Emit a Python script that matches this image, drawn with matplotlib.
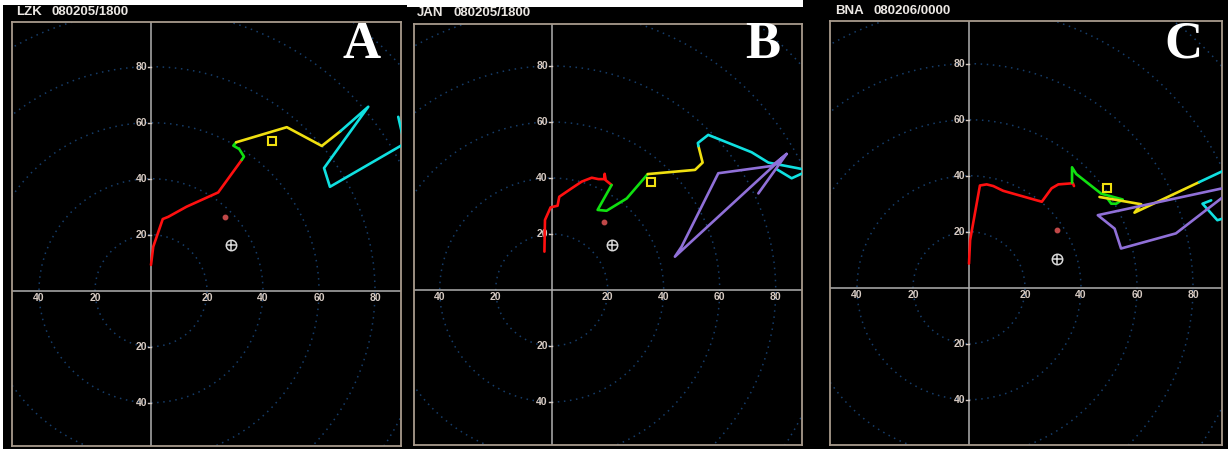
"""
Three model hodographs side by side (LZK, JAN, BNA) drawn as dark radar-style
panels: dotted range rings every 20 kt, cross-hair axes and the wind trace
coloured by layer.
"""
import matplotlib
matplotlib.use("Agg")
import matplotlib.pyplot as plt
from matplotlib.patches import Circle

W, H = 1231, 451

# --- hodograph traces (u, v) in kt -------------------------------------------
LZK_RED = [(0, 9.2), (0.8, 15.7), (4.2, 25.6), (6.2, 26.4), (12.7, 30), (24, 35.1), (32.4, 46.7)]
LZK_GREEN = [(32.4, 46.7), (33.2, 47.9), (31.5, 50.6), (29.4, 51.8), (30.4, 53)]
LZK_YELLOW = [(30.4, 53), (48.5, 58.4), (61.0, 51.7), (67.7, 57.0)]
LZK_CYAN = [(67.7, 57.0), (77.6, 65.7), (61.8, 43.8), (63.9, 37.1), (90.5, 52.5), (88.3, 62.1)]
LZK_PURPLE = []
LZK_DOT = (26.4, 26.4)
LZK_MEAN = (28.6, 16.3)
LZK_SQUARE = (43.2, 53.3)

JAN_RED = [(-2.6, 13.7), (-2.4, 25), (-0.4, 29.5), (2.1, 30.1), (2.7, 33.3), (7.1, 36.3),
           (10.7, 38.7), (14.3, 40.1), (16.7, 39.6), (18.8, 39.6), (18.9, 41.5), (19.3, 39.2),
           (21.4, 37.5)]
JAN_GREEN = [(21.4, 37.5), (16.4, 28.6), (19.6, 28.3), (26.8, 32.7), (34.3, 41.4)]
JAN_YELLOW = [(34.3, 41.4), (51.2, 42.9), (53.9, 45.5), (52.4, 51.4)]
JAN_CYAN = [(52.4, 51.4), (52.2, 52.5), (55.9, 55.4), (71.4, 49.2), (77.4, 45.5), (91, 42.9),
            (89.6, 41.7), (85.7, 39.9), (80.4, 43.1)]
JAN_PURPLE = [(73.8, 34.5), (83.9, 48.6), (44, 11.9), (46.4, 15.5), (59.5, 41.7), (78.6, 44.3),
              (83.9, 48.6)]
JAN_DOT = (18.8, 24.2)
JAN_MEAN = (21.7, 16.1)
JAN_SQUARE = (35.5, 38.5)

BNA_RED = [(0, 8.6), (0.4, 17), (3.9, 36.5), (6.3, 36.9), (8.7, 36.3), (12.2, 34.6), (26, 30.7),
           (29.5, 35.5), (31.9, 36.9), (37.1, 37.3), (37.5, 36.3)]
BNA_GREEN = [(36.8, 37.5), (36.8, 43), (38.3, 40.6), (47.2, 33.6), (54.9, 31.5), (52.6, 30),
             (50.8, 30), (49.5, 31.8)]
BNA_YELLOW = [(46.6, 32.4), (61.5, 29.8), (59.1, 26.8), (82.2, 37.7)]
BNA_CYAN = [(82.2, 37.7), (90.5, 41.6), (92, 42.3)]
BNA_CYAN_LOW = [(86.5, 31.2), (83.4, 30), (88.7, 24.1), (91, 24.8)]
BNA_PURPLE = [(91, 35.6), (46, 25.9), (52, 21.1), (54.3, 14), (73.9, 19.4), (91, 32.6)]
BNA_DOT = (31.5, 20.7)
BNA_MEAN = (31.5, 10.4)
BNA_SQUARE = (49.2, 35.6)

STATIONS = ["LZK", "JAN", "BNA"]
TIMES = ["080205/1800", "080205/1800", "080206/0000"]
LETTERS = ["A", "B", "C"]
RINGS = [20, 40, 60, 80, 100, 120]
X_TICKS = [-40, -20, 20, 40, 60, 80]
Y_TICKS = [-40, -20, 20, 40, 60, 80]

COLORS = {"red": "#ff1010", "green": "#10e010", "yellow": "#f0e010",
          "cyan": "#10e0e0", "purple": "#9070d8"}

panels = [
    {"traces": [("red", LZK_RED), ("green", LZK_GREEN), ("yellow", LZK_YELLOW),
                ("cyan", LZK_CYAN), ("purple", LZK_PURPLE)],
     "dot": LZK_DOT, "mean": LZK_MEAN, "square": LZK_SQUARE},
    {"traces": [("red", JAN_RED), ("green", JAN_GREEN), ("yellow", JAN_YELLOW),
                ("cyan", JAN_CYAN), ("purple", JAN_PURPLE)],
     "dot": JAN_DOT, "mean": JAN_MEAN, "square": JAN_SQUARE},
    {"traces": [("red", BNA_RED), ("green", BNA_GREEN), ("yellow", BNA_YELLOW),
                ("cyan", BNA_CYAN), ("cyan", BNA_CYAN_LOW), ("purple", BNA_PURPLE)],
     "dot": BNA_DOT, "mean": BNA_MEAN, "square": BNA_SQUARE},
]

# screen layout in pixels: black backdrop, plot frame, origin, title positions
backdrops = [(3, 5, 407, 449), (407, 7, 803, 449), (803, 0, 1228, 449)]
frames = [(12, 22, 401, 446), (414, 24, 802, 445), (830, 21, 1222, 445)]
origins = [(151, 290.7), (551.7, 290), (969, 287.7)]
title_pos = [(16, 52, 12), (417, 454, 13.5), (835, 873, 11)]
letter_pos = [(362, 45), (763, 45), (1183, 45)]
PX_PER_KT = 2.8

TXT = "#d6cac2"
RING = "#163d6a"
FRAME = "#a89a8c"
AXIS = "#b0b0b0"


def rect(x0, y0, x1, y1):
    return [x0 / W, 1 - y1 / H, (x1 - x0) / W, (y1 - y0) / H]


fig = plt.figure(figsize=(W / 100, H / 100), dpi=100, facecolor="white")

for i, p in enumerate(panels):
    bg = fig.add_axes(rect(*backdrops[i]))
    bg.set_facecolor("black")
    bg.set_xticks([]); bg.set_yticks([])
    for s in bg.spines.values():
        s.set_visible(False)

    x0, y0, x1, y1 = frames[i]
    ox, oy = origins[i]
    ax = fig.add_axes(rect(x0, y0, x1, y1))
    ax.set_facecolor("black")
    ax.set_xlim((x0 - ox) / PX_PER_KT, (x1 - ox) / PX_PER_KT)
    ax.set_ylim((oy - y1) / PX_PER_KT, (oy - y0) / PX_PER_KT)
    ax.set_xticks([]); ax.set_yticks([])
    for s in ax.spines.values():
        s.set_color(FRAME)
        s.set_linewidth(1.3)

    for r in RINGS:
        ax.add_patch(Circle((0, 0), r, fill=False, ec=RING, lw=1.1,
                            ls=(0, (1, 3)), zorder=1))
    ax.axhline(0, color=AXIS, lw=1.1, zorder=2)
    ax.axvline(0, color=AXIS, lw=1.1, zorder=2)

    for t in X_TICKS:
        ax.text(t, -2.6, str(abs(t)), color=TXT, fontsize=7.5, fontweight="bold",
                family="Liberation Sans", ha="center", va="center", zorder=3)
    for t in Y_TICKS:
        ax.plot([-1.1, 0], [t, t], color=TXT, lw=1.0, zorder=3)
        ax.text(-1.4, t, str(abs(t)), color=TXT, fontsize=7.5, fontweight="bold",
                family="Liberation Sans", ha="right", va="center", zorder=3)

    for cname, pts in p["traces"]:
        if not pts:
            continue
        us = [q[0] for q in pts]
        vs = [q[1] for q in pts]
        ax.plot(us, vs, color=COLORS[cname], lw=1.9, solid_joinstyle="round",
                solid_capstyle="round", zorder=4)

    ax.plot(*p["dot"], "o", ms=3.2, color="#c04848", mec="#c04848", zorder=5)
    ax.plot(*p["mean"], "o", ms=7.5, mfc="none", mec="#d8d8d8", mew=1.1, zorder=5)
    ax.plot(*p["mean"], "+", ms=7.5, color="#d8d8d8", mew=1.1, zorder=5)
    ax.plot(*p["square"], "s", ms=6, mfc="none", mec=COLORS["yellow"], mew=1.5, zorder=5)

    sx, dx, ty = title_pos[i]
    fig.text(sx / W, 1 - ty / H, STATIONS[i], color="#ece8e4", fontsize=9.5,
             fontweight="bold", family="Liberation Sans", ha="left", va="center")
    fig.text(dx / W, 1 - ty / H, TIMES[i], color="#ece8e4", fontsize=9.5,
             fontweight="bold", family="Liberation Sans", ha="left", va="center")

    lx, ly = letter_pos[i]
    fig.text(lx / W, 1 - ly / H, LETTERS[i], color="white", fontsize=38,
             fontweight="bold", family="Liberation Serif", ha="center", va="center")

fig.savefig("out.png", dpi=100, facecolor="white")
